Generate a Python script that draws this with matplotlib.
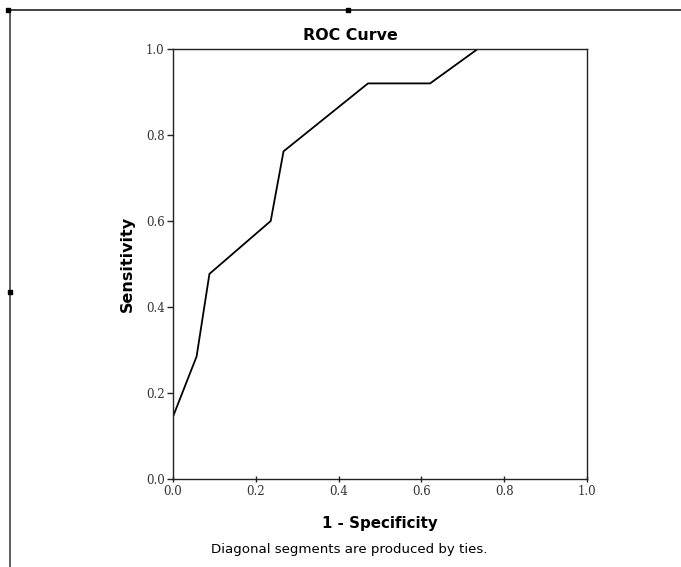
import matplotlib
matplotlib.use("Agg")
import matplotlib.pyplot as plt
from matplotlib.lines import Line2D

# ROC curve data (1 - specificity, sensitivity)
fpr = [0.0, 0.0, 0.057, 0.088, 0.236, 0.267, 0.471, 0.621, 0.736, 1.0]
tpr = [0.0, 0.145, 0.285, 0.477, 0.60, 0.762, 0.92, 0.92, 1.0, 1.0]
ticks = [0.0, 0.2, 0.4, 0.6, 0.8, 1.0]
tick_labels = ["0.0", "0.2", "0.4", "0.6", "0.8", "1.0"]

W, H = 681, 567
fig = plt.figure(figsize=(W / 100, H / 100), dpi=100)
fig.patch.set_facecolor("white")

ax = fig.add_axes([173 / W, 1 - 479 / H, (587 - 173) / W, (479 - 49) / H])
ax.plot(fpr, tpr, color="black", lw=1.3, solid_joinstyle="miter")
ax.set_xlim(0, 1)
ax.set_ylim(0, 1)
ax.set_xticks(ticks)
ax.set_xticklabels(tick_labels)
ax.set_yticks(ticks)
ax.set_yticklabels(tick_labels)
for s in ax.spines.values():
    s.set_linewidth(1.0)
    s.set_color("#222222")
ax.tick_params(axis="both", length=4, width=1.0, color="#222222",
               labelsize=8.5, pad=2)
ax.tick_params(axis="x", direction="inout")
for lbl in ax.get_xticklabels() + ax.get_yticklabels():
    lbl.set_family("DejaVu Serif")
    lbl.set_color("#333333")

ax.set_xlabel("1 - Specificity", fontsize=10.8, fontweight="bold",
              family="DejaVu Sans", labelpad=13)
ax.set_ylabel("Sensitivity", fontsize=11.5, fontweight="bold",
              family="DejaVu Sans", labelpad=8)

fig.text(350 / W, 1 - 35 / H, "ROC Curve", ha="center", va="center",
         fontsize=11.4, fontweight="bold", family="DejaVu Sans")
fig.text(349 / W, 1 - 550 / H, "Diagonal segments are produced by ties.",
         ha="center", va="center", fontsize=9.6, family="DejaVu Sans")

# outer frame lines and handles
fig.add_artist(Line2D([8 / W, 1.0], [1 - 10 / H, 1 - 10 / H],
                      transform=fig.transFigure, color="#222222", lw=1.2))
fig.add_artist(Line2D([10 / W, 10 / W], [1 - 10 / H, 0.0],
                      transform=fig.transFigure, color="#444444", lw=1.2))
for (px, py) in [(8, 10), (348, 10), (10, 292)]:
    fig.add_artist(Line2D([px / W], [1 - py / H], transform=fig.transFigure,
                          marker="s", markersize=3.5, color="black", lw=0))

fig.savefig("out.png", dpi=100)
